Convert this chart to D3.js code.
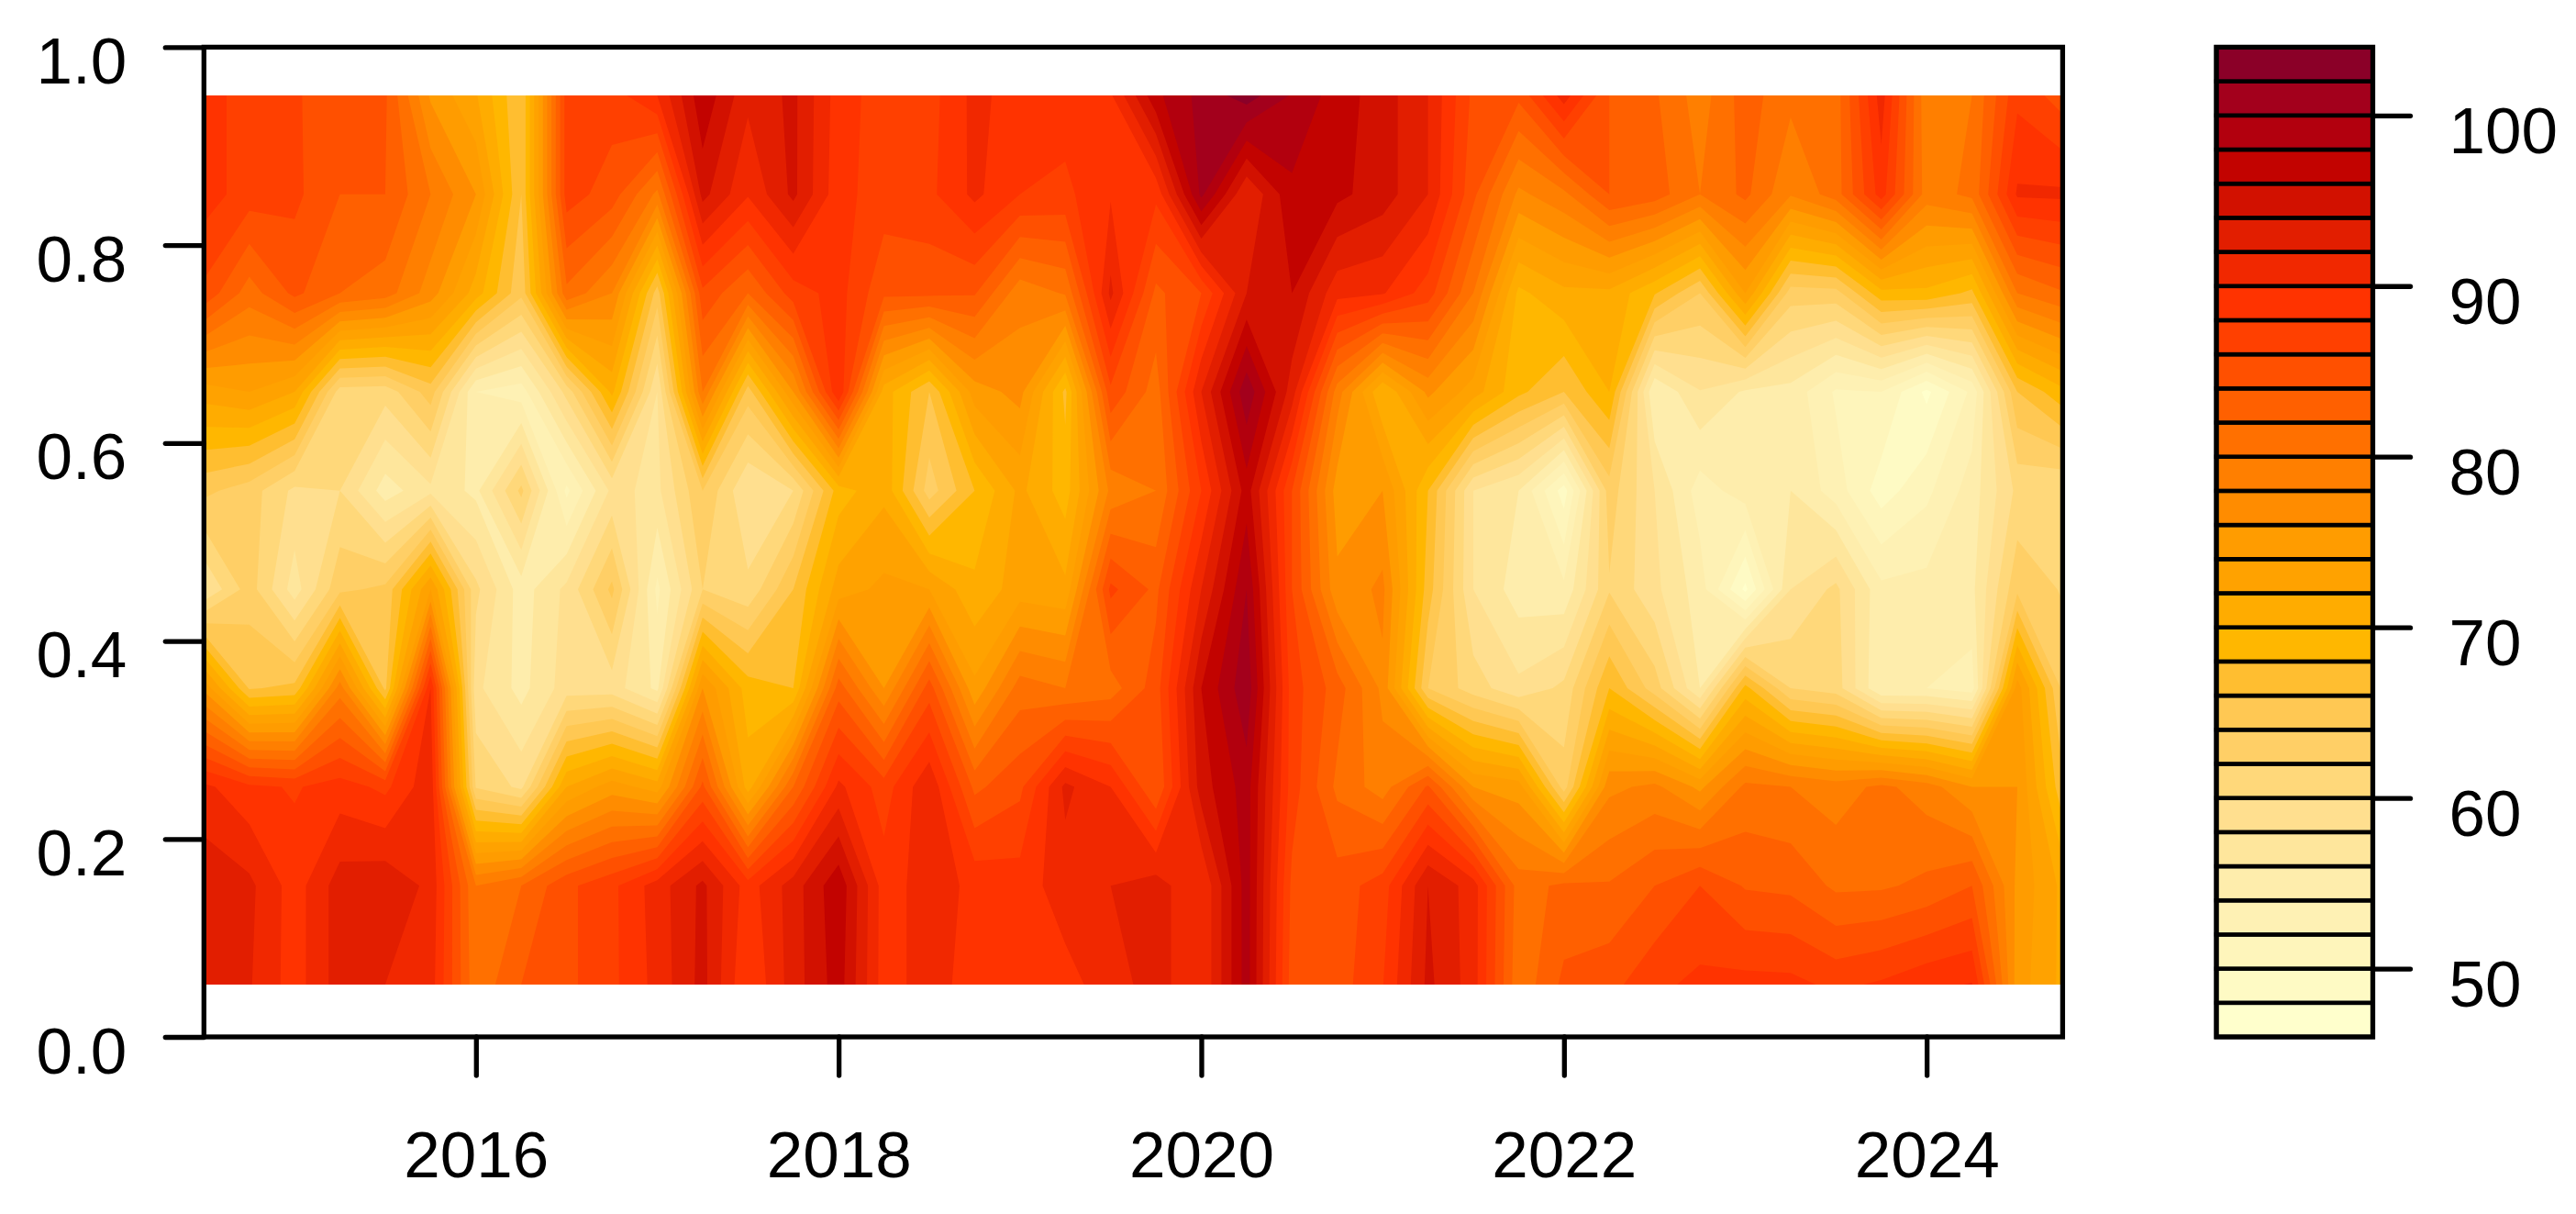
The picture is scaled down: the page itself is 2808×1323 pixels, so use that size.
<!DOCTYPE html>
<html><head><meta charset="utf-8">
<script src="https://cdn.jsdelivr.net/npm/d3@7"></script>
<style>html,body{margin:0;padding:0;background:#fff}svg{display:block}text{font-family:"Liberation Sans",Arial,sans-serif;fill:#000}</style>
</head><body><svg id="c" width="2808" height="1323"></svg>
<script>
const firstYear = 2014.5, stepYear = 0.25;
const rowLevels = [0.951, 0.053];
const row95 = [89,87,86.2,85,84.3,75.7,72.2,66,87,87,90,97.5,92.5,94.5,89,87,87.2,90.6,89,89,89.7,97.5,100.7,103,99.8,97,95,92,85.5,84.5,91,84,82.3,79,83,80.5,81,91,78.5,80,87.5,85];
const row85 = [89,87,86.5,84,84,80,76,66,87,85,79.5,94.7,90.2,94.5,88.7,87,87.5,90.5,88,87.5,89.8,88.5,100.5,92,97.5,96.5,95,92,84.5,77.5,79.5,84,83,80,82.5,78.2,81,89,79,80.5,90.3,90.4];
const row75 = [85.5,81,84.5,82,81,77,71,64.5,81.5,78,65,85.5,82,87,88.8,84.5,84.5,84.2,78.7,80.2,92.5,83.5,86,94,96,90.7,90.2,87,80,69.5,71.5,71.5,68.2,64,74,63,63.2,69.3,69.5,67.5,80,81.8];
const row65 = [73,74,72,61,60.8,65,54,53,60.7,70.5,58,80,65,76,90,71,66,75,76.7,67.5,85.5,81,92,101.5,93,79,70,76.5,73,68.5,66,70,54,57.9,55.7,55.3,51.7,52,47.5,52.5,66,69.4];
const row55 = [64.5,63,59.5,60,55,57.5,55.5,62.5,51.5,58.5,57.5,64,58,60,69,71.5,63,68,72.5,69,78.5,80,88,97,86,75,76,68,58,56,49,63,58,53,55,56,53,49,51.5,55,60.5,60];
const row45 = [58,63,57,63.5,64.5,74,60.5,55,58.5,64.5,53.5,62,60.5,66,73,74.5,74,70.5,73,72.5,86.5,83.5,92,100,86,76.5,78.5,67,58,55,54.5,61.8,58.5,55,47.5,58,60.5,54.5,54.7,55.5,63.5,61.8];
const row35 = [75.5,65.8,66.5,79,65.5,90,58.5,55.3,59,59,55.5,76,69,68,83,76,85,74.5,81,80,81,85,96,101.5,87,83,77.5,64,61,58.5,60.5,68,63,56,68.7,62,61,54,54,53,75,63.5];
const row25 = [90.5,88.5,87.8,88.9,87.5,91.5,61.8,59.5,72,75,73,84.5,71,82,90.5,87,91.7,83.5,85.5,92.5,90,84,95,99,87,81.5,79,84.3,76,75,63,77.5,78.5,75.5,80.5,80,79,80.5,79,76,76,66.5];
const row15 = [93.5,92.5,89,93,93.5,91.5,80,82,85.5,87.5,91,94.5,89,93,97.5,89,91,89.5,89,91,92,93,90,99,85.5,85,87,94,91,81,82.5,82.2,84,86,83.8,83.5,81.6,81.7,82.5,84,75.5,71.5];
const row05 = [93,92.2,89,93,92,91,80.5,84,85.5,87.5,90.7,94.7,88,93,97,89,91,89,89,89.3,91,93,90,99,85,85,87.9,94.5,91,80.5,84.5,85.3,87.5,88.5,88.7,88.6,87.5,88.3,89.5,90.1,75,71.5];
const levelMin = 46, levelMax = 104, levelStep = 2;
const bandColors = ["#FFFFCC","#FEFAC4","#FEF5BB","#FEF1B4","#FEEDAC","#FEE69C","#FFDF8F","#FFD87A","#FFCF66","#FFC853","#FFBE30","#FFB700","#FFAC00","#FFA200","#FF9C00","#FF8C00","#FF7F00","#FF7000","#FF6000","#FF5000","#FF4000","#FF3300","#F12800","#E21E00","#D21100","#C20300","#B2000E","#A3001C","#8B0028"];
const xTicks = [2016,2018,2020,2022,2024];
const yTicks = [0,0.2,0.4,0.6,0.8,1];
const legendTicks = [50,60,70,80,90,100];

const rows = [row95,row85,row75,row65,row55,row45,row35,row25,row15,row05];
const nx = row95.length, ny = rows.length;
const lastYear = firstYear + (nx-1)*stepYear;
const FS = 71, LW = 5.3;
const L=222.3,R=2248.4,T=51.4,B=1130;
const x = d3.scaleLinear([firstYear,lastYear],[L,R]);
const y = d3.scaleLinear([0,1],[B,T]);
const gridX = d3.scaleLinear([0.5,nx-0.5],[firstYear,lastYear]);
const gridY = d3.scaleLinear([0.5,ny-0.5],rowLevels);
const svg = d3.select("#c");
svg.append("defs").append("clipPath").attr("id","clip").append("rect")
  .attr("x",x(firstYear)).attr("width",x(lastYear)-x(firstYear))
  .attr("y",y(rowLevels[0])).attr("height",y(rowLevels[1])-y(rowLevels[0]));
const levels = d3.range(levelMin,levelMax,levelStep);
const flat = rows.flat();
const contours = d3.contours().size([nx,ny]).thresholds(levels)(flat);
const proj = d3.geoTransform({point(px,py){ this.stream.point(x(gridX(px)),y(gridY(py))); }});
const path = d3.geoPath(proj);
svg.append("g").attr("clip-path","url(#clip)").selectAll("path").data(contours).join("path")
  .attr("d",path).attr("fill",(d,i)=>bandColors[i]);
// frame
svg.append("rect").attr("x",L).attr("y",T).attr("width",R-L).attr("height",B-T)
  .attr("fill","none").attr("stroke","#000").attr("stroke-width",LW);
// axes
const ax = svg.append("g").attr("transform",`translate(0,${B})`)
  .call(d3.axisBottom(x).tickValues(xTicks).tickFormat(d3.format("d")).tickSize(42).tickSizeOuter(0));
ax.select(".domain").remove();
ax.selectAll("line").attr("stroke-width",LW).attr("stroke-linecap","round");
ax.selectAll("text").attr("y",153).attr("dy",0).attr("font-size",FS);
const ay = svg.append("g").attr("transform",`translate(${L},0)`)
  .call(d3.axisLeft(y).tickValues(yTicks).tickFormat(d3.format(".1f")).tickSize(42).tickSizeOuter(0));
ay.select(".domain").remove();
ay.selectAll("line").attr("stroke-width",LW).attr("stroke-linecap","round");
ay.selectAll("text").attr("x",-84).attr("y",39).attr("dy",0).attr("font-size",FS).attr("text-anchor","end");
// legend
const lx0=2416,lx1=2586.5;
const ly = d3.scaleLinear([levelMin,levelMax],[B,T]);
const lg = svg.append("g");
lg.selectAll("rect").data(levels).join("rect")
  .attr("x",lx0).attr("width",lx1-lx0).attr("y",d=>ly(d+levelStep)).attr("height",d=>ly(d)-ly(d+levelStep))
  .attr("fill",(d,i)=>bandColors[i]).attr("stroke","#000").attr("stroke-width",4.6);
lg.append("rect").attr("x",lx0).attr("y",T).attr("width",lx1-lx0).attr("height",B-T).attr("fill","none").attr("stroke","#000").attr("stroke-width",LW);
const al = svg.append("g").attr("transform",`translate(${lx1},0)`)
  .call(d3.axisRight(ly).tickValues(legendTicks).tickSize(41).tickSizeOuter(0));
al.select(".domain").remove();
al.selectAll("line").attr("stroke-width",LW).attr("stroke-linecap","round");
al.selectAll("text").attr("x",83).attr("y",41).attr("dy",0).attr("font-size",FS).attr("text-anchor","start");
</script></body></html>
